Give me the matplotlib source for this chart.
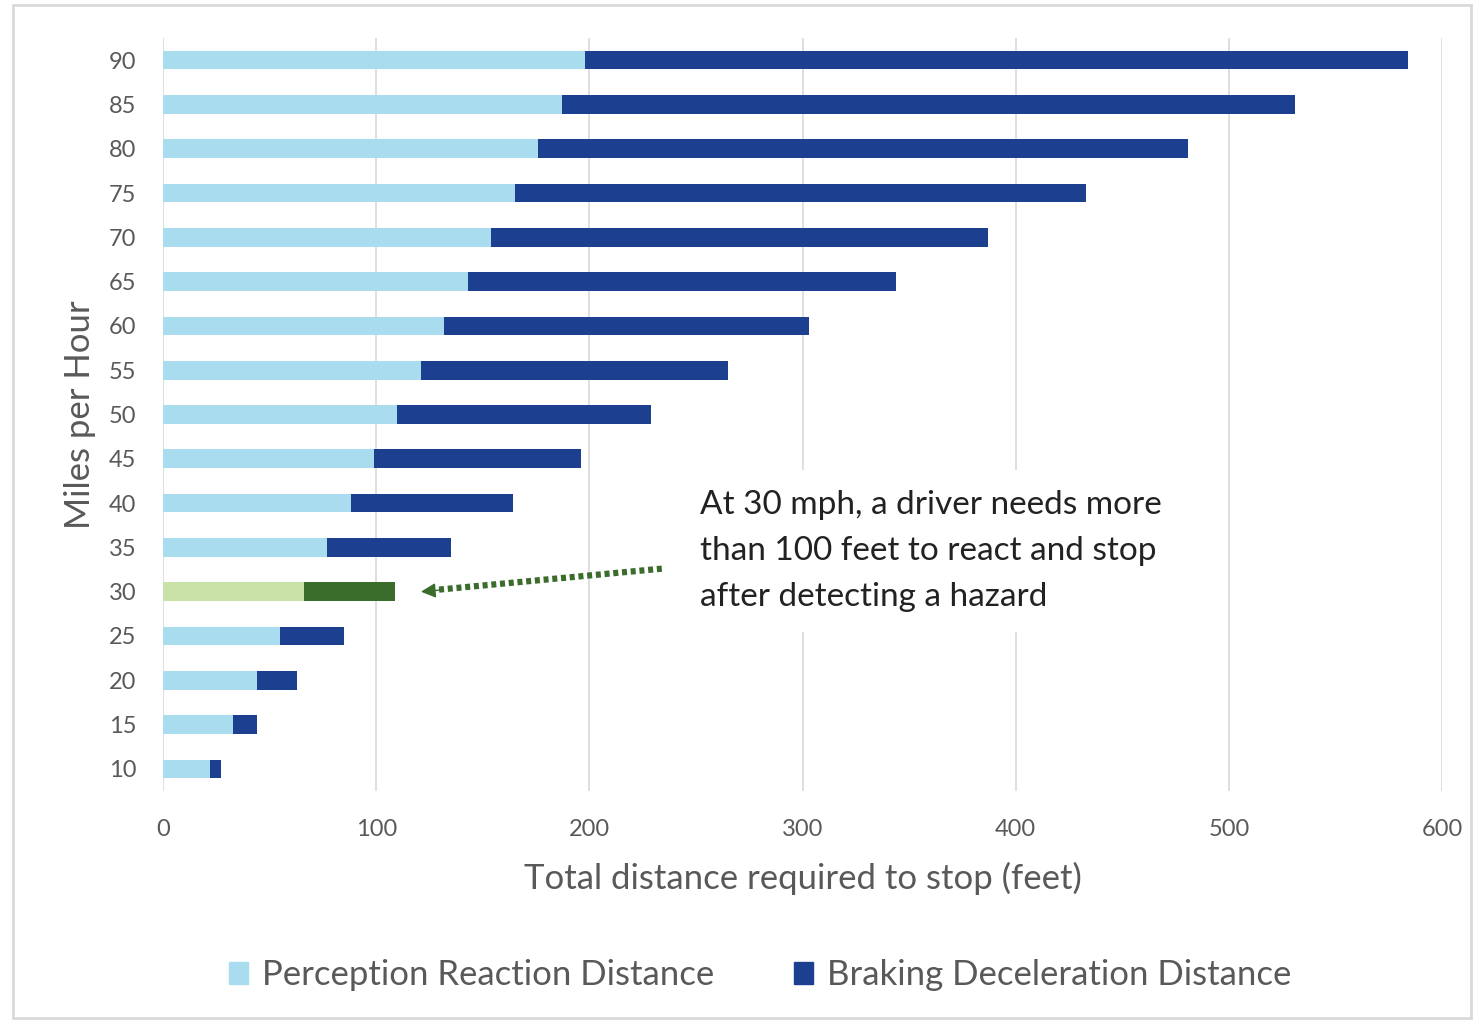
import matplotlib.pyplot as plt
from matplotlib.patches import Patch, Rectangle

# stopping distance by speed (feet)
speeds = [10, 15, 20, 25, 30, 35, 40, 45, 50, 55, 60, 65, 70, 75, 80, 85, 90]
reaction = [22, 33, 44, 55, 66, 77, 88, 99, 110, 121, 132, 143, 154, 165, 176, 187, 198]
braking = [5, 11, 19, 30, 43, 58, 76, 97, 119, 144, 171, 201, 233, 268, 305, 344, 386]
highlight = 30

light_blue = '#a8dcee'
dark_blue = '#1d3f8f'
light_green = '#c8e2a8'
dark_green = '#3a6c2b'
grey_txt = '#595959'

plt.rcParams['font.family'] = ['Lato', 'DejaVu Sans']

fig = plt.figure(figsize=(14.73, 10.23), dpi=100)
ax = fig.add_axes([163 / 1473, 1 - 791 / 1023, (1442 - 163) / 1473, (791 - 38) / 1023])

ypos = list(range(len(speeds)))
c1 = [light_green if s == highlight else light_blue for s in speeds]
c2 = [dark_green if s == highlight else dark_blue for s in speeds]
ax.barh(ypos, reaction, height=0.42, color=c1, zorder=2)
ax.barh(ypos, braking, left=reaction, height=0.42, color=c2, zorder=2)

ax.set_xlim(0, 600)
ax.set_ylim(-0.5, len(speeds) - 0.5)
ax.set_xticks(range(0, 601, 100))
ax.set_yticks(ypos)
ax.set_yticklabels([str(s) for s in speeds])
ax.grid(axis='x', color='#d9d9d9', lw=1.2, zorder=0)
for sp in ax.spines.values():
    sp.set_visible(False)
ax.tick_params(length=0, labelsize=17, labelcolor=grey_txt)
ax.tick_params(axis='x', pad=20)
ax.tick_params(axis='y', pad=19)

ax.set_xlabel('Total distance required to stop (feet)', fontsize=25, color=grey_txt, labelpad=16)
ax.set_ylabel('Miles per Hour', fontsize=25, color=grey_txt, labelpad=9)

# callout for the 30 mph bar
i30 = speeds.index(highlight)
ax.text(252, i30 + 0.92, 'At 30 mph, a driver needs more\nthan 100 feet to react and stop\nafter detecting a hazard',
        fontsize=24, color='#222222', va='center', ha='left', linespacing=1.68,
        bbox=dict(facecolor='white', edgecolor='none', pad=14), zorder=5)
ax.plot([234, 128], [i30 + 0.52, i30 + 0.04], color=dark_green, lw=4.5,
        linestyle=(0, (0.8, 0.6)), dash_capstyle='butt', zorder=6)
ax.annotate('', xy=(121, i30), xytext=(131, i30 + 0.04),
            arrowprops=dict(arrowstyle='-|>,head_length=0.9,head_width=0.45', color=dark_green,
                            lw=1, shrinkA=0, shrinkB=0), zorder=6)

handles = [Patch(color=light_blue, label='Perception Reaction Distance'),
           Patch(color=dark_blue, label='Braking Deceleration Distance')]
fig.legend(handles=handles, loc='center', bbox_to_anchor=(0.516, 1 - 975 / 1023), ncol=2,
           frameon=False, fontsize=25, labelcolor=grey_txt, handlelength=0.55, handleheight=0.6,
           handletextpad=0.4, columnspacing=2.3)

fig.patches.append(Rectangle((13 / 1473, 1 - 1018 / 1023), 1458 / 1473, 1013 / 1023,
                             transform=fig.transFigure, fill=False, edgecolor='#d9d9d9', lw=2))

fig.savefig('out.png', dpi=100)
